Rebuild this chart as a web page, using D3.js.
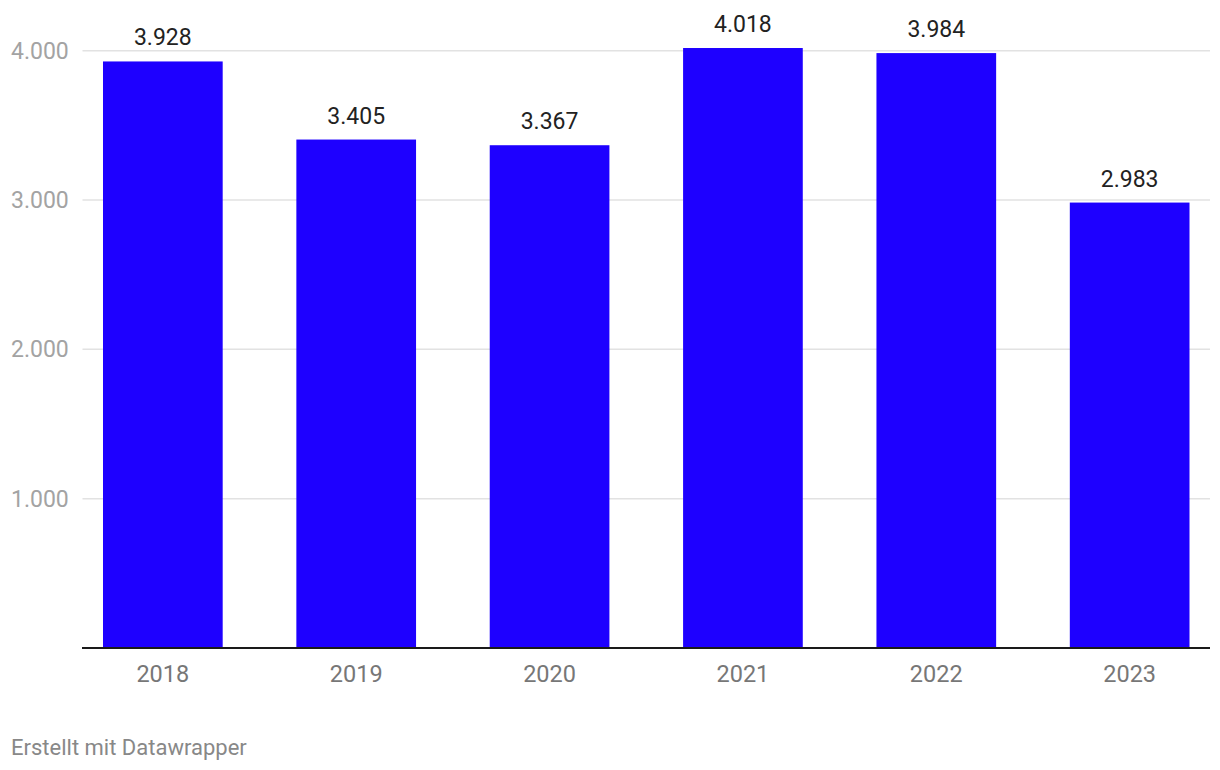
<!DOCTYPE html>
<html><head><meta charset="utf-8">
<script src="https://cdn.jsdelivr.net/npm/d3@7"></script>
<style>body{margin:0;background:#fff;font-family:Roboto,"Noto Sans",sans-serif}</style>
</head><body><svg id="c" width="1220" height="770"></svg>
<script>
const categories = ["2018","2019","2020","2021","2022","2023"];
const values = [3928,3405,3367,4018,3984,2983];
const yTicks = [1000,2000,3000,4000];
const fmt = v => d3.format(",")(v).replace(/,/g,".");

const svg = d3.select("#c");
const x = d3.scaleBand().domain(categories).range([82.5,1210]).paddingInner(0.381).paddingOuter(0.106);
const y = d3.scaleLinear().domain([0,4000]).range([648,50.7]);

const grid = svg.append("g");
grid.selectAll("line").data(yTicks).join("line")
  .attr("x1",82.5).attr("x2",1210).attr("y1",d=>y(d)).attr("y2",d=>y(d))
  .attr("stroke","#e2e2e2").attr("stroke-width",1.5);
grid.selectAll("text").data(yTicks).join("text")
  .attr("x",11).attr("y",d=>y(d)+8).attr("font-size",23).attr("fill","#a3a3a3")
  .text(d=>fmt(d));

svg.append("g").selectAll("rect").data(values).join("rect")
  .attr("x",(d,i)=>x(categories[i])).attr("width",x.bandwidth())
  .attr("y",d=>y(d)).attr("height",d=>y(0)-y(d)).attr("fill","#1e00ff");

svg.append("g").selectAll("text").data(values).join("text")
  .attr("x",(d,i)=>x(categories[i])+x.bandwidth()/2).attr("y",d=>y(d)-16)
  .attr("text-anchor","middle").attr("font-size",23).attr("fill","#222")
  .text(d=>fmt(d));

svg.append("line").attr("x1",82).attr("x2",1210).attr("y1",y(0)).attr("y2",y(0))
  .attr("stroke","#1a1a1a").attr("stroke-width",2);

svg.append("g").selectAll("text").data(categories).join("text")
  .attr("x",d=>x(d)+x.bandwidth()/2).attr("y",682)
  .attr("text-anchor","middle").attr("font-size",23.5).attr("fill","#777")
  .text(d=>d);

svg.append("text").attr("x",11).attr("y",755).attr("font-size",22).attr("fill","#888")
  .text("Erstellt mit Datawrapper");
</script></body></html>
